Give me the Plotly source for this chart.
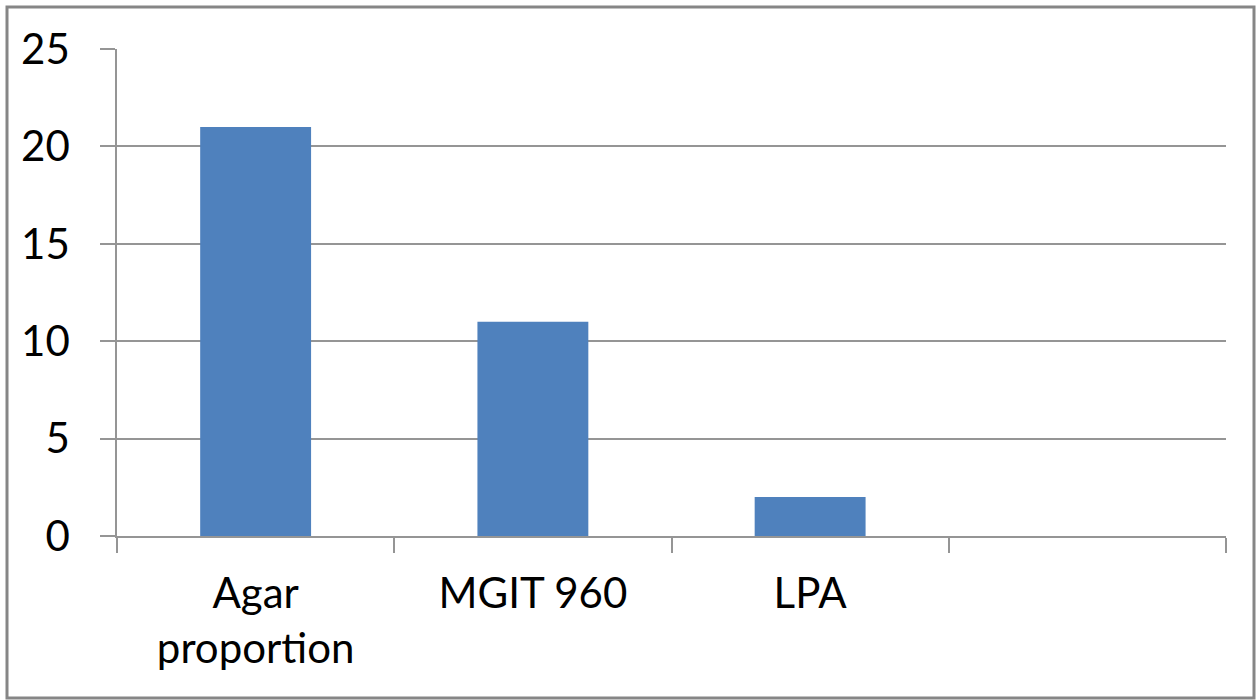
import plotly.graph_objects as go

categories = ["Agar<br>proportion", "MGIT 960", "LPA", " "]
values = [21, 11, 2, None]
y_ticks = [0, 5, 10, 15, 20, 25]

L, R, T, B = 117, 30, 49, 164
W, H = 1256, 700
pw, ph = W - L - R, H - T - B

def px_x(x):
    return (x - L) / pw

def px_y(y):
    return (H - B - y) / ph

fig = go.Figure(go.Bar(x=categories, y=values, marker_color="#4F81BD",
                       marker_line_width=0))

grid = "#959595"
font = dict(family="Lato, Carlito, Calibri, sans-serif", size=42, color="#000000")

fig.update_layout(
    width=W, height=H,
    margin=dict(l=L, r=R, t=T, b=B),
    paper_bgcolor="white", plot_bgcolor="white",
    bargap=0.6, showlegend=False,
    font=font,
    xaxis=dict(type="category", categoryorder="array", categoryarray=categories,
               tickson="boundaries", ticks="outside", ticklen=15, tickcolor=grid,
               tickwidth=1.5, showline=True, linecolor=grid, linewidth=1.5,
               showgrid=False, tickfont=font, ticklabelstandoff=20),
    yaxis=dict(range=[0, 25], tickvals=y_ticks, ticks="outside", ticklen=15,
               tickcolor=grid, tickwidth=1.5, showgrid=True, gridcolor=grid,
               gridwidth=1.5, showline=True, linecolor=grid, linewidth=1.5,
               zeroline=False, tickfont=font, ticklabelstandoff=22),
    shapes=[dict(type="rect", xref="paper", yref="paper",
                 x0=px_x(7), x1=px_x(1254), y0=px_y(698), y1=px_y(7),
                 line=dict(color="#868686", width=3), layer="below")],
)

fig.write_html("out.html", config={"displayModeBar": False},
               post_script="document.body.style.margin='0';document.body.style.overflow='hidden';")
